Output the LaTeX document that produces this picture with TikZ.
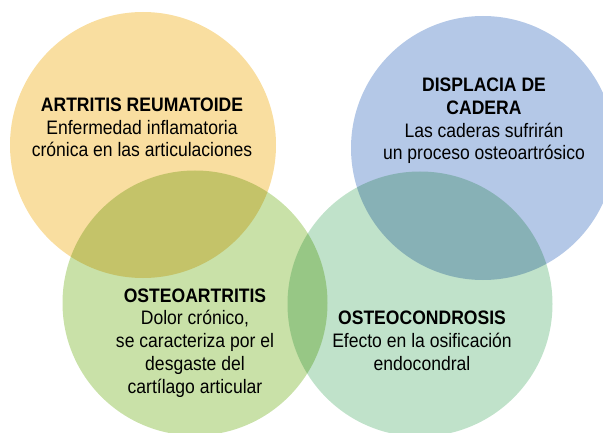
\documentclass[tikz,border=0pt]{standalone}
\usepackage{fontspec}
\setmainfont{Liberation Sans}[FakeStretch=0.9]
\definecolor{corange}{RGB}{249,222,160}
\definecolor{cblue}{RGB}{180,200,231}
\definecolor{cgreen}{RGB}{201,225,168}
\definecolor{cteal}{RGB}{192,226,202}
\begin{document}
\begin{tikzpicture}[x=1pt,y=-1pt,
  lbl/.style={align=center, anchor=base, inner sep=0pt, text=black,
    font=\fontsize{19.5}{22.7}\selectfont}]
\useasboundingbox (0,0) rectangle (603,433);
\begin{scope}
  \clip (0,0) rectangle (603,433);
  \begin{scope}[blend group=multiply]
    \fill[corange] (143,145) circle[radius=133];
    \fill[cblue] (483,148) circle[radius=132];
    \fill[cgreen] (195,303) circle[radius=132.5];
    \fill[cteal] (420,304) circle[radius=132.5];
  \end{scope}
\end{scope}
% anchor=base falls on the last line of each block
\node[lbl] (ra) at (142,157) {\textbf{ARTRITIS REUMATOIDE}\\Enfermedad inflamatoria\\crónica en las articulaciones};
\node[lbl] (dc) at (484,160) {\textbf{DISPLACIA DE}\\\textbf{CADERA}\\Las caderas sufrirán\\un proceso osteoartrósico};
\node[lbl] (oa) at (195,393) {\textbf{OSTEOARTRITIS}\\Dolor crónico,\\se caracteriza por el\\desgaste del\\cartílago articular};
\node[lbl] (oc) at (422,370) {\textbf{OSTEOCONDROSIS}\\Efecto en la osificación\\endocondral};
\end{tikzpicture}
\end{document}
